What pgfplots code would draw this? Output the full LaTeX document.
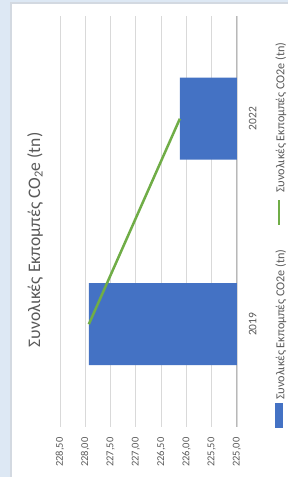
\documentclass[border=0pt]{standalone}
\usepackage{pgfplots}
\pgfplotsset{compat=1.18}
\usepackage{fontspec}
\setmainfont{Carlito}
\definecolor{txt}{HTML}{595959}
\definecolor{barblue}{HTML}{4472C4}
\definecolor{lgreen}{HTML}{70AD47}
\definecolor{gridc}{HTML}{D9D9D9}
\definecolor{bgblue}{HTML}{DDE8F4}
\definecolor{borderc}{HTML}{D3D9E1}
\begin{document}
\begin{tikzpicture}
\useasboundingbox (0pt,0pt) rectangle (288pt,477pt);
\fill[bgblue] (0pt,0pt) rectangle (288pt,477pt);
\fill[borderc] (10pt,0pt) rectangle (288pt,475pt);
\fill[white] (12pt,0pt) rectangle (288pt,473pt);
\begin{axis}[
  at={(60pt,50pt)}, anchor=south west,
  scale only axis, width=177pt, height=411pt,
  bar width=82pt, bar shift=0pt,
  x dir=reverse,
  xmin=225, xmax=228.5,
  ymin=-0.5, ymax=1.5,
  xtick={225,225.5,226,226.5,227,227.5,228,228.5},
  /pgf/number format/.cd, fixed, fixed zerofill, precision=2, use comma, 1000 sep={}, assume math mode=true,
  /pgfplots/.cd,
  xticklabel style={yshift=-7pt, rotate=90, anchor=east, font=\fontsize{10.5}{12}\selectfont, text=txt},
  ytick={0,1}, yticklabels={2019,2022},
  yticklabel pos=right,
  yticklabel style={xshift=8.5pt, rotate=90, anchor=north, font=\fontsize{11.5}{13}\selectfont, text=txt},
  xmajorgrids, grid style={gridc, line width=0.8pt},
  axis line style={draw=none}, major tick style={draw=none},
  extra x ticks={225}, extra x tick labels={},
  extra x tick style={grid style={color=black!28, line width=1pt}},
]
\addplot[xbar, fill=barblue, draw=none]
  coordinates {(227.93,0) (226.13,1)};
\addplot[lgreen, line width=2.5pt, sharp plot, mark=none]
  coordinates {(227.93,0) (226.13,1)};
\end{axis}
% legend (rotated, as in the reference)
\fill[barblue] (275pt,49pt) rectangle (283pt,74pt);
\node[rotate=90, anchor=west, inner sep=0pt, text=txt, font=\fontsize{12.2}{14}\selectfont] at (281pt,77pt) {Συνολικές Εκπομπές CO2e (tn)};
\draw[lgreen, line width=2.5pt] (279pt,252pt) -- (279pt,277pt);
\node[rotate=90, anchor=west, inner sep=0pt, text=txt, font=\fontsize{12.2}{14}\selectfont] at (281pt,284pt) {Συνολικές Εκπομπές CO2e (tn)};
\node[rotate=90, text=txt, font=\fontsize{17.6}{21}\selectfont] at (35pt,237pt) {Συνολικές Εκπομπές CO\textsubscript{2}e (tn)};
\end{tikzpicture}
\end{document}
